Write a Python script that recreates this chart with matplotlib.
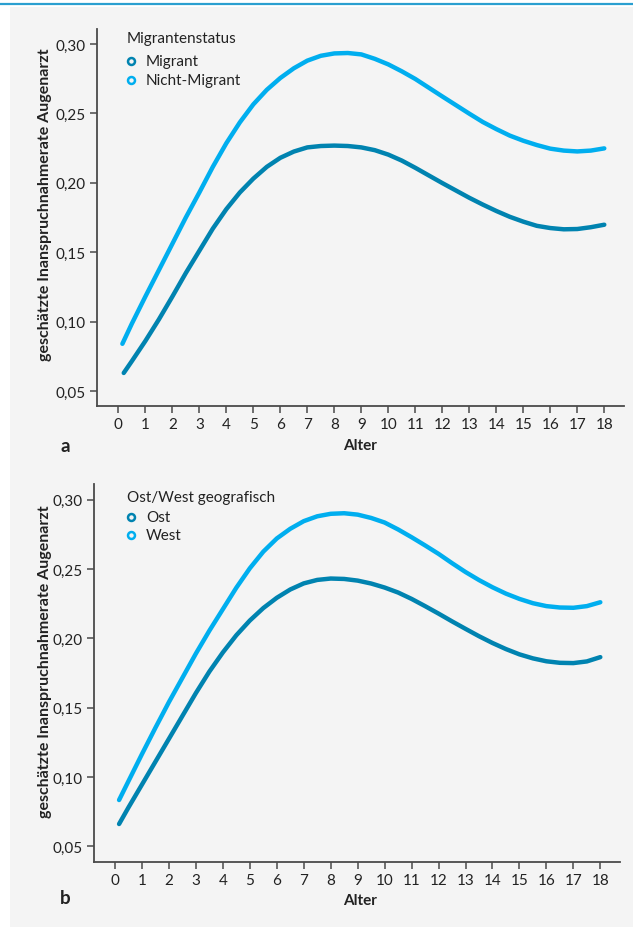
"""Inanspruchnahmerate Augenarzt nach Alter — two panels (a: Migrantenstatus, b: Ost/West)."""

import matplotlib
matplotlib.use("Agg")
import matplotlib.pyplot as plt
from matplotlib.lines import Line2D
from matplotlib.patches import Rectangle
from matplotlib.ticker import FuncFormatter

FONT = ["Lato", "DejaVu Sans"]
plt.rcParams["font.family"] = FONT

# ---------- data -----------------------------------------------------------
AGE = [0.5, 1, 1.5, 2, 2.5, 3, 3.5, 4, 4.5, 5, 5.5, 6, 6.5, 7, 7.5, 8, 8.5, 9,
       9.5, 10, 10.5, 11, 11.5, 12, 12.5, 13, 13.5, 14, 14.5, 15, 15.5, 16,
       16.5, 17, 17.5, 18]

# panel a — first point of each curve sits just right of age 0
A_START_MIGRANT = (0.2, 0.063)
A_START_NICHT = (0.15, 0.084)
MIGRANT = [0.0715, 0.086, 0.1015, 0.118, 0.135, 0.151, 0.167, 0.181, 0.193,
           0.203, 0.2115, 0.218, 0.2225, 0.2255, 0.2265, 0.2268, 0.2265, 0.2255,
           0.2235, 0.2203, 0.216, 0.2108, 0.2053, 0.1998, 0.1945, 0.1892, 0.1843,
           0.1797, 0.1755, 0.172, 0.169, 0.1674, 0.1665, 0.1667, 0.168, 0.1698]
NICHT_MIGRANT = [0.0985, 0.118, 0.137, 0.156, 0.175, 0.193, 0.2115, 0.2285, 0.2435,
                 0.2565, 0.267, 0.2755, 0.2825, 0.288, 0.2915, 0.2932, 0.2935, 0.2925,
                 0.2893, 0.2853, 0.2803, 0.2748, 0.2685, 0.2622, 0.256, 0.2498, 0.2438,
                 0.2387, 0.234, 0.2303, 0.2272, 0.2246, 0.2232, 0.2226, 0.2232, 0.2248]

# panel b
B_START_OST = (0.15, 0.066)
B_START_WEST = (0.15, 0.0833)
OST = [0.078, 0.0945, 0.111, 0.1275, 0.144, 0.1605, 0.176, 0.1898, 0.2022,
       0.2128, 0.2218, 0.2292, 0.2352, 0.2396, 0.2421, 0.2431, 0.2428, 0.2416,
       0.2395, 0.2366, 0.233, 0.2284, 0.2232, 0.2178, 0.2122, 0.2068, 0.2015,
       0.1966, 0.1922, 0.1884, 0.1855, 0.1834, 0.1823, 0.1821, 0.1833, 0.1864]
WEST = [0.097, 0.1165, 0.1355, 0.154, 0.1715, 0.189, 0.2055, 0.221, 0.2365,
        0.2505, 0.2625, 0.272, 0.279, 0.2845, 0.288, 0.2898, 0.2902, 0.2892,
        0.2868, 0.2835, 0.2785, 0.2729, 0.267, 0.2609, 0.2542, 0.2478, 0.242,
        0.2368, 0.2322, 0.2284, 0.2253, 0.2232, 0.2222, 0.222, 0.2232, 0.226]

Y_TICKS = [0.05, 0.10, 0.15, 0.20, 0.25, 0.30]
X_TICKS = [0, 1, 2, 3, 4, 5, 6, 7, 8, 9, 10, 11, 12, 13, 14, 15, 16, 17, 18]

DARK = "#0083b0"
LIGHT = "#00aeef"
SPINE = "#4a4a4a"
PANEL_BG = "#f4f4f4"
TEXT = "#222222"

W, H = 633, 928


def fx(px):
    return px / W


def fy(py):
    return 1 - py / H


def draw_panel(fig, ax, series, legend_title, legend_y, xlim, ylim):
    for (start, vals, color, label) in series:
        ax.plot([start[0]] + AGE, [start[1]] + vals, color=color, lw=3.2,
                solid_capstyle="round", solid_joinstyle="round", label=label)
    ax.set_xlim(*xlim)
    ax.set_ylim(*ylim)
    ax.set_xticks(X_TICKS)
    ax.set_yticks(Y_TICKS)
    ax.yaxis.set_major_formatter(FuncFormatter(lambda v, _: f"{v:.2f}".replace(".", ",")))
    ax.set_facecolor("none")
    for s in ("top", "right"):
        ax.spines[s].set_visible(False)
    for s in ("left", "bottom"):
        ax.spines[s].set_color(SPINE)
        ax.spines[s].set_linewidth(1.3)
    ax.tick_params(direction="out", length=5, width=1.1, color=SPINE,
                   labelsize=11, labelcolor=TEXT, pad=3)

    # legend drawn by hand: title line, then one open-circle row per series
    t_y, row_ys = legend_y
    fig.text(fx(127), fy(t_y), legend_title, ha="left", va="center",
             fontsize=11, color=TEXT)
    for (_, _, color, label), ry in zip(series, row_ys):
        fig.add_artist(Line2D([fx(131)], [fy(ry)], transform=fig.transFigure,
                              ls="none", marker="o", markersize=5,
                              markerfacecolor="none", markeredgecolor=color,
                              markeredgewidth=1.8))
        fig.text(fx(146), fy(ry), label, ha="left", va="center",
                 fontsize=11, color=TEXT)


fig = plt.figure(figsize=(W / 100, H / 100), dpi=100)
fig.patch.set_facecolor("white")
fig.add_artist(Rectangle((fx(10), 0), 1 - fx(10), fy(8), transform=fig.transFigure,
                         facecolor=PANEL_BG, edgecolor="none", zorder=-10))
fig.add_artist(Line2D([0, 1], [fy(5), fy(5)], transform=fig.transFigure,
                      color="#2a9fd0", lw=1.6))

ax_a = fig.add_axes([fx(97), fy(407), fx(624) - fx(97), fy(30) - fy(407)])
draw_panel(fig, ax_a,
           [(A_START_MIGRANT, MIGRANT, DARK, "Migrant"),
            (A_START_NICHT, NICHT_MIGRANT, LIGHT, "Nicht-Migrant")],
           "Migrantenstatus", (39, (62, 81)), (-0.79, 18.73), (0.0392, 0.3108))

ax_b = fig.add_axes([fx(94), fy(863), fx(620) - fx(94), fy(485) - fy(863)])
draw_panel(fig, ax_b,
           [(B_START_OST, OST, DARK, "Ost"),
            (B_START_WEST, WEST, LIGHT, "West")],
           "Ost/West geografisch", (498, (518, 536)), (-0.78, 18.73), (0.0386, 0.3113))

ylabel = "geschätzte Inanspruchnahmerate Augenarzt"
for (ylab_y, alter_y, letter, letter_y) in ((205, 446, "a", 446), (662, 901, "b", 899)):
    fig.text(fx(45), fy(ylab_y), ylabel, rotation=90, ha="center", va="center",
             fontsize=11.5, fontweight="bold", color=TEXT)
    fig.text(fx(360), fy(alter_y), "Alter", ha="center", va="center",
             fontsize=11, fontweight="bold", color=TEXT)
    fig.text(fx(65), fy(letter_y), letter, ha="center", va="center",
             fontsize=13.5, fontweight="bold", color=TEXT)

fig.savefig("out.png", dpi=100)
